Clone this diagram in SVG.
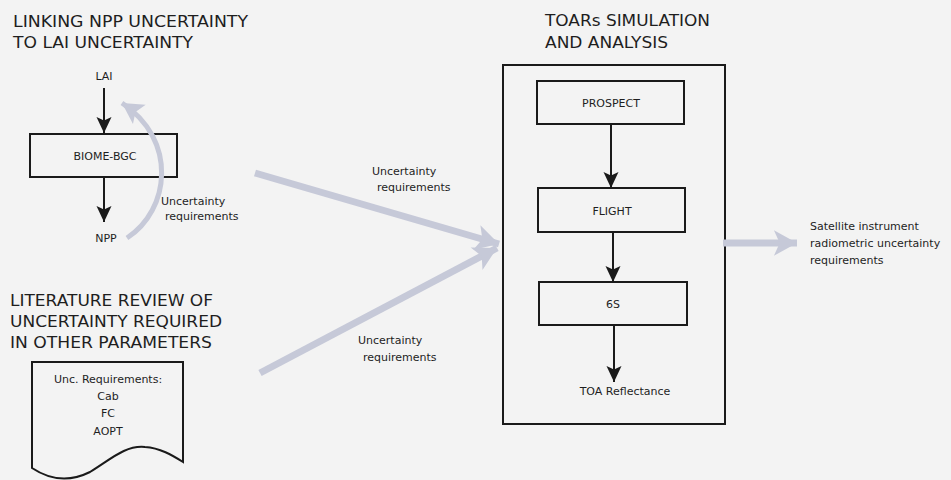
<svg xmlns="http://www.w3.org/2000/svg" width="951" height="480" viewBox="0 0 951 480">
<style>
text{font-family:"DejaVu Sans","Open Sans",sans-serif;fill:#1e1e1e}
.t{font-size:16px}
.s{font-size:11px}
.m{text-anchor:middle}
.box{fill:none;stroke:#1a1a1a;stroke-width:2}
.blk{stroke:#1a1a1a;stroke-width:2;fill:none}
.gry{stroke:#c6c9d8;fill:none;stroke-linecap:butt}
</style>
<defs>
<marker id="ah" markerUnits="userSpaceOnUse" markerWidth="20" markerHeight="20" viewBox="-18 -9 20 18" refX="0" refY="0" orient="auto">
<path d="M0,0 L-16,-7.5 L-12.5,0 L-16,7.5 Z" fill="#1a1a1a"/>
</marker>
<marker id="gh" markerUnits="userSpaceOnUse" markerWidth="30" markerHeight="30" viewBox="-24 -13 26 26" refX="0" refY="0" orient="auto">
<path d="M0,0 L-20,-11 L-15,0 L-20,11 Z" fill="#c6c9d8"/>
</marker>
<marker id="gh2" markerUnits="userSpaceOnUse" markerWidth="30" markerHeight="30" viewBox="-24 -13 26 26" refX="0" refY="0" orient="auto">
<path d="M0,0 L-18,-10 L-14,0 L-18,10 Z" fill="#c6c9d8"/>
</marker>
</defs>
<rect width="951" height="480" fill="#f3f3f3"/>

<g id="titles">
<text class="t" x="13" y="27" textLength="235" lengthAdjust="spacingAndGlyphs">LINKING NPP UNCERTAINTY</text>
<text class="t" x="13" y="48" textLength="180" lengthAdjust="spacingAndGlyphs">TO LAI UNCERTAINTY</text>
<text class="t" x="10" y="306" textLength="203" lengthAdjust="spacingAndGlyphs">LITERATURE REVIEW OF</text>
<text class="t" x="10" y="327" textLength="212" lengthAdjust="spacingAndGlyphs">UNCERTAINTY REQUIRED</text>
<text class="t" x="10" y="348" textLength="202" lengthAdjust="spacingAndGlyphs">IN OTHER PARAMETERS</text>
<text class="t" x="545" y="26" textLength="165" lengthAdjust="spacingAndGlyphs">TOARs SIMULATION</text>
<text class="t" x="545" y="48" textLength="123" lengthAdjust="spacingAndGlyphs">AND ANALYSIS</text>
</g>

<g id="lai"><text class="s m" x="104" y="80">LAI</text></g>
<g id="npp"><text class="s m" x="106" y="242">NPP</text></g>
<g id="biome-bgc">
<rect class="box" x="30" y="134" width="147" height="43"/>
<text class="s m" x="105" y="160">BIOME-BGC</text>
</g>

<g id="literature">
<path class="box" d="M32,362 H183 V462 C172,455 160,448 145,447 C125,445 110,460 90,472 C70,482 50,480 32,468 Z"/>
<text class="s m" x="108" y="383">Unc. Requirements:</text>
<text class="s m" x="108" y="400">Cab</text>
<text class="s m" x="108" y="417">FC</text>
<text class="s m" x="108" y="435">AOPT</text>
</g>

<g id="toars">
<rect class="box" x="503" y="65" width="222" height="359"/>
</g>
<g id="prospect">
<rect class="box" x="537" y="81" width="147" height="43"/>
<text class="s m" x="611" y="107">PROSPECT</text>
</g>
<g id="flight">
<rect class="box" x="538" y="188" width="147" height="44"/>
<text class="s m" x="612" y="215">FLIGHT</text>
</g>
<g id="sixs">
<rect class="box" x="539" y="282" width="148" height="43"/>
<text class="s m" x="613" y="308">6S</text>
</g>
<g id="toa"><text class="s m" x="625" y="395">TOA Reflectance</text></g>

<g id="satellite">
<text class="s" x="810" y="230">Satellite instrument</text>
<text class="s" x="810" y="247">radiometric uncertainty</text>
<text class="s" x="810" y="264"> requirements</text>
</g>

<g id="connectors">
<line class="blk" x1="104" y1="88" x2="104" y2="133" marker-end="url(#ah)"/>
<line class="blk" x1="104" y1="177" x2="104" y2="222" marker-end="url(#ah)"/>
<line class="blk" x1="611" y1="124" x2="611" y2="188" marker-end="url(#ah)"/>
<line class="blk" x1="613" y1="232" x2="613" y2="282" marker-end="url(#ah)"/>
<line class="blk" x1="614" y1="325" x2="614" y2="382" marker-end="url(#ah)"/>
<path class="gry" stroke-width="5" d="M127,238 C170,210 178,140 122,103" marker-end="url(#gh2)"/>
<line class="gry" stroke-width="7" x1="255" y1="173" x2="499" y2="244" marker-end="url(#gh)"/>
<line class="gry" stroke-width="7" x1="260" y1="373" x2="497" y2="248" marker-end="url(#gh)"/>
<line class="gry" stroke-width="7" x1="723" y1="243" x2="797" y2="243" marker-end="url(#gh)"/>
<text class="s" x="161" y="205">Uncertainty</text>
<text class="s" x="165" y="220">requirements</text>
<text class="s" x="372" y="175">Uncertainty</text>
<text class="s" x="377" y="191">requirements</text>
<text class="s" x="358" y="344">Uncertainty</text>
<text class="s" x="363" y="361">requirements</text>
</g>
</svg>
